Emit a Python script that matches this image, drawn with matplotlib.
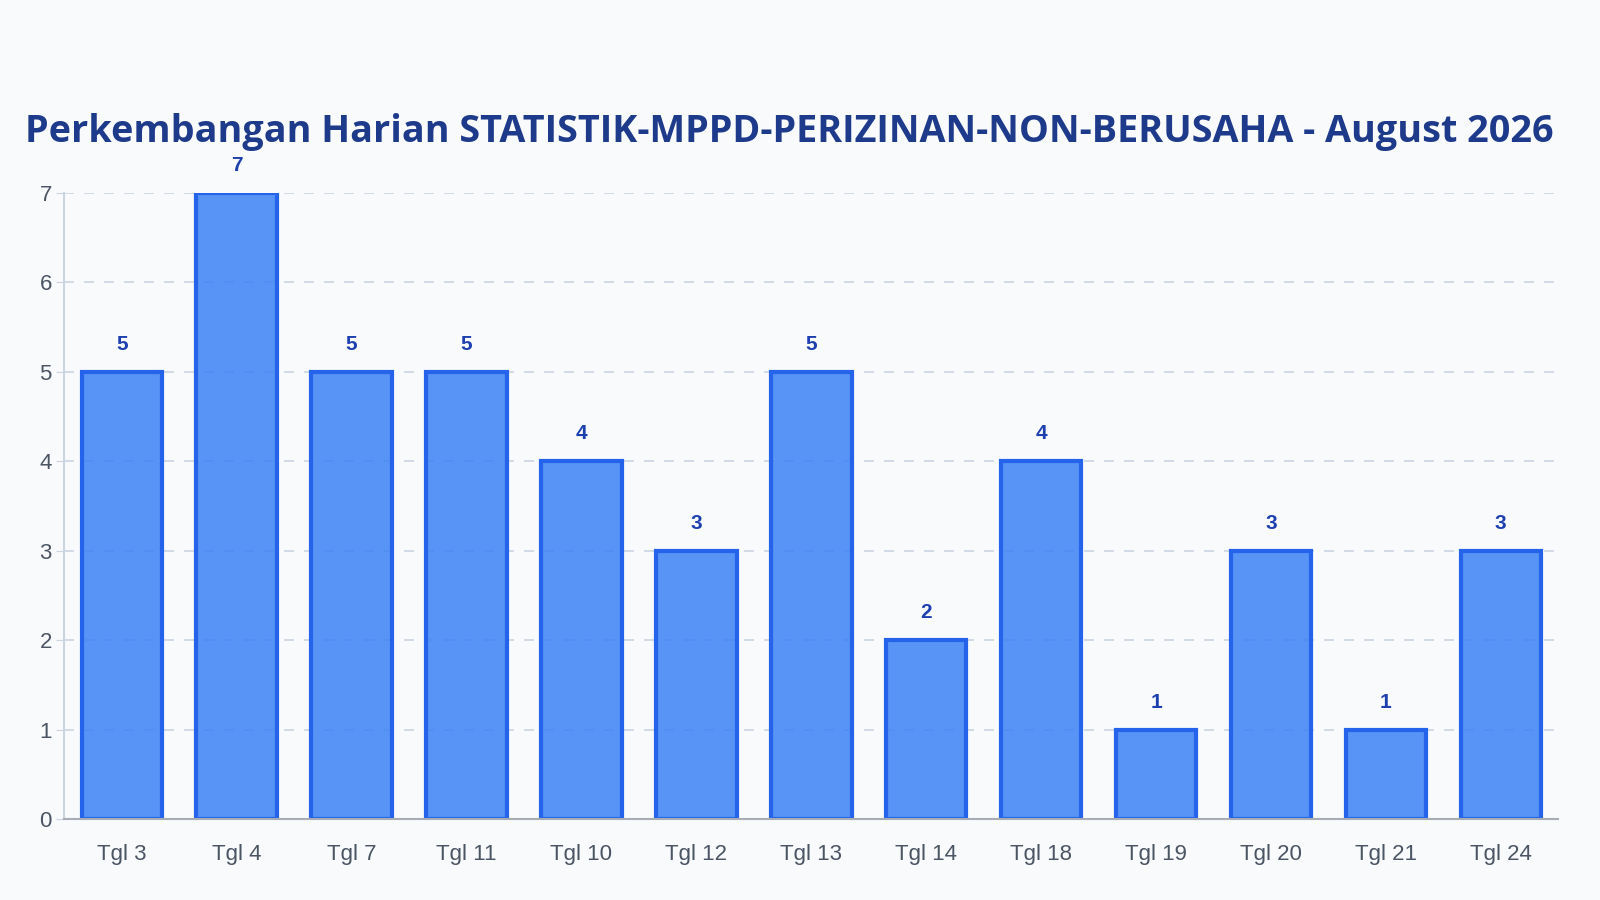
import matplotlib.pyplot as plt
import numpy as np

days = ["Tgl 3", "Tgl 4", "Tgl 7", "Tgl 11", "Tgl 10", "Tgl 12", "Tgl 13",
        "Tgl 14", "Tgl 18", "Tgl 19", "Tgl 20", "Tgl 21", "Tgl 24"]
counts = [5, 7, 5, 5, 4, 3, 5, 2, 4, 1, 3, 1, 3]
title = "Perkembangan Harian STATISTIK-MPPD-PERIZINAN-NON-BERUSAHA - August 2026"

bg = "#f8fafc"
fig = plt.figure(figsize=(16, 9), dpi=100, facecolor=bg)
ax = fig.add_axes([0.0402, 0.0896, 0.9337, 0.6961], facecolor=bg)

x = np.arange(len(days))
ax.bar(x, counts, width=0.7, color=(0.231, 0.51, 0.965, 0.85),
       edgecolor="#2563eb", linewidth=3, zorder=3)

for xi, v in zip(x, counts):
    ax.annotate(str(v), (xi, v), xytext=(0, 13), textcoords="offset points",
                ha="center", va="bottom", fontsize=15, fontweight="bold",
                color="#1e40af", family="Liberation Sans", zorder=4)

ax.set_xlim(-0.5, 12.5)
ax.set_ylim(0, 7)
ax.set_xticks(x)
ax.set_xticklabels(days, family="Liberation Sans", fontsize=16, color="#4b5563")
ax.set_yticks(range(0, 8))
ax.set_yticklabels([str(i) for i in range(8)], family="Liberation Sans",
                   fontsize=16, color="#4b5563")
ax.tick_params(axis="x", length=0, pad=18)
ax.tick_params(axis="y", length=6, color="#cbd5e1", pad=3)
ax.grid(axis="y", color="#cbd5e1", linestyle=(0, (6, 6)), linewidth=1.2, zorder=0)
for s in ["top", "right"]:
    ax.spines[s].set_visible(False)
ax.spines["left"].set_color("#cbd5e1")
ax.spines["left"].set_linewidth(1.5)
ax.spines["bottom"].set_color("#a8adb5")
ax.spines["bottom"].set_linewidth(1.5)
ax.spines["bottom"].set_zorder(5)

fig.text(0.4935, 0.853, title, ha="center", va="center", fontsize=27.2,
         fontweight="bold", color="#1e3a8a", family="Open Sans")

fig.savefig("out.png", dpi=100, facecolor=bg)
